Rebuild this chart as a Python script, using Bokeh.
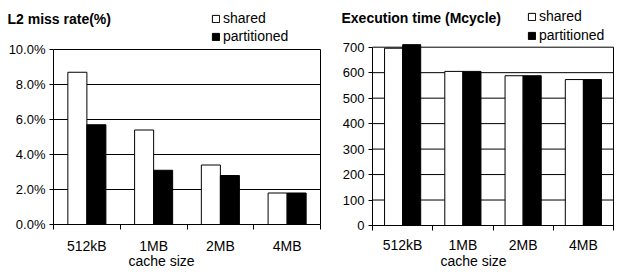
from bokeh.plotting import figure
from bokeh.layouts import row
from bokeh.models import (FixedTicker, PrintfTickFormatter, Legend, LegendItem,
                          Label, Range1d, LinearAxis)
from bokeh.embed import file_html
from bokeh.resources import INLINE

categories = ["512kB", "1MB", "2MB", "4MB"]
series_names = ["shared", "partitioned"]
miss_shared = [8.7, 5.4, 3.4, 1.8]
miss_partitioned = [5.7, 3.1, 2.8, 1.8]
exec_shared = [696, 605, 588, 573]
exec_partitioned = [710, 605, 588, 573]
miss_ticks = [0, 2, 4, 6, 8, 10]
exec_ticks = [0, 100, 200, 300, 400, 500, 600, 700]
miss_title = "L2 miss rate(%)"
exec_title = "Execution time (Mcycle)"
x_title = "cache size"

FONT = "Liberation Sans"
H = 270


def make_chart(title, shared, part, yticks, fmt, W, plot_left, plot_right,
               plot_top, plot_bottom, bar_w, title_pos, legend_pos,
               legend_spacing, xl_standoff, xtitle_pos):
    n = len(categories)
    y0, y1 = yticks[0], yticks[-1]
    # map pixel layout of the plot box (within the canvas) onto data ranges
    xs = (plot_right - plot_left) / n
    ys = (plot_bottom - plot_top) / (y1 - y0)
    x_range = Range1d(-plot_left / xs, n + (W - plot_right) / xs)
    y_range = Range1d(y0 - (H - plot_bottom) / ys, y1 + plot_top / ys)
    p = figure(width=W, height=H, x_range=x_range, y_range=y_range,
               output_backend="svg", toolbar_location=None,
               x_axis_location=None, y_axis_location=None, min_border=0)
    p.background_fill_color = "white"
    p.border_fill_color = "white"
    p.outline_line_color = None
    p.grid.visible = False

    # gridlines (behind bars)
    p.segment(x0=[0] * len(yticks), y0=yticks, x1=[n] * len(yticks), y1=yticks,
              line_color="black", line_width=1)
    # right border of the plot box
    p.segment(x0=[n], y0=[y0], x1=[n], y1=[y1], line_color="black", line_width=1)

    centers = [i + 0.5 for i in range(n)]
    r1 = p.vbar(x=[c - bar_w / 2 for c in centers], top=shared, width=bar_w,
                fill_color="white", line_color="black", line_width=1)
    r2 = p.vbar(x=[c + bar_w / 2 for c in centers], top=part, width=bar_w,
                fill_color="black", line_color="black", line_width=1)

    xaxis = LinearAxis(fixed_location=y0, bounds=(0, n))
    xaxis.ticker = FixedTicker(ticks=centers, minor_ticks=list(range(n + 1)))
    xaxis.major_label_overrides = {c: lab for c, lab in zip(centers, categories)}
    xaxis.major_tick_out = 0
    xaxis.major_tick_in = 0
    xaxis.minor_tick_out = 5
    xaxis.minor_tick_in = 0
    xaxis.minor_tick_line_color = "black"
    xaxis.axis_line_color = "black"
    xaxis.major_label_standoff = xl_standoff
    xaxis.major_label_text_font = FONT
    xaxis.major_label_text_font_size = "14px"
    xaxis.major_label_text_color = "black"
    p.add_layout(xaxis, "below")

    yaxis = LinearAxis(fixed_location=0, bounds=(y0, y1))
    yaxis.ticker = FixedTicker(ticks=yticks)
    yaxis.formatter = PrintfTickFormatter(format=fmt)
    yaxis.major_tick_out = 4
    yaxis.major_tick_in = 0
    yaxis.minor_tick_line_color = None
    yaxis.major_tick_line_color = "black"
    yaxis.axis_line_color = "black"
    yaxis.major_label_standoff = 4
    yaxis.major_label_text_font = FONT
    yaxis.major_label_text_font_size = "13px"
    yaxis.major_label_text_color = "black"
    p.add_layout(yaxis, "left")

    p.add_layout(Label(x=title_pos[0], y=H - title_pos[1], x_units="screen",
                       y_units="screen", text=title, text_font=FONT,
                       text_font_size="14px", text_font_style="bold",
                       text_color="black", text_baseline="middle"))

    p.add_layout(Label(x=xtitle_pos[0], y=H - xtitle_pos[1], x_units="screen",
                       y_units="screen", text=x_title, text_font=FONT,
                       text_font_size="14px", text_color="black",
                       text_align="center", text_baseline="middle"))

    legend = Legend(items=[LegendItem(label=series_names[0], renderers=[r1]),
                           LegendItem(label=series_names[1], renderers=[r2])],
                    location=(legend_pos[0], H - legend_pos[1]),
                    orientation="vertical",
                    padding=0, margin=0, spacing=legend_spacing,
                    glyph_width=9, glyph_height=9, label_height=14,
                    label_standoff=3, label_text_font=FONT,
                    label_text_font_size="14px", label_text_color="black",
                    border_line_color=None, background_fill_alpha=0)
    p.add_layout(legend, "center")
    return p


p1 = make_chart(miss_title, miss_shared, miss_partitioned, miss_ticks, "%.1f%%",
                328, 53, 320, 49, 224, 0.285, (7, 18), (211, 44), 2,
                8, (161, 260))
p2 = make_chart(exec_title, exec_shared, exec_partitioned, exec_ticks, "%d",
                287, 44, 285, 46.7, 225, 0.3, (13, 17), (199, 43), 3,
                6, (145, 260))

layout = row(p1, p2)
open("out.html", "w").write(file_html(layout, INLINE))
